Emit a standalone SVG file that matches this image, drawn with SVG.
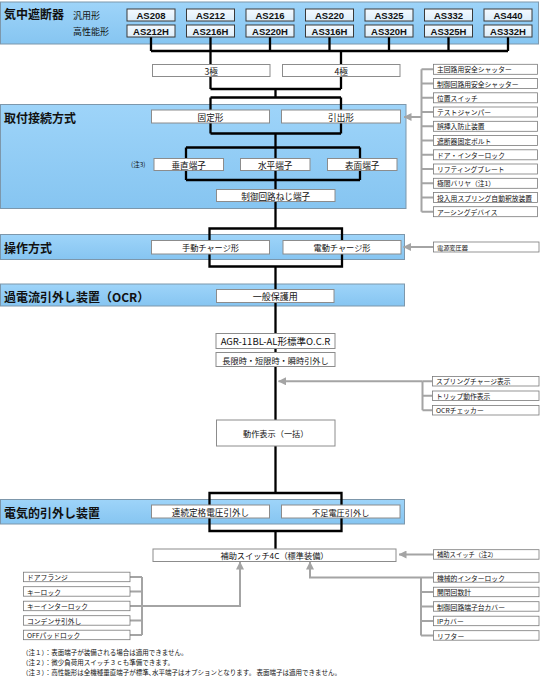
<svg xmlns="http://www.w3.org/2000/svg" width="540" height="676" viewBox="0 0 540 676">
<style>
text{font-family:"Noto Sans CJK JP","Liberation Sans",sans-serif;fill:#111;dominant-baseline:central}
.band{fill:url(#bg);stroke:#7d97ab;stroke-width:1}
.bl{font-size:12px;font-weight:bold}
.sub{font-size:9px}
.as{fill:url(#ag);stroke:#3a3a3a;stroke-width:1}
.ast{font-family:"Liberation Sans",Arial,sans-serif;font-size:9.5px;font-weight:bold;text-anchor:middle}
.box{fill:#fff;stroke:#8c8c8c;stroke-width:1}
.bt{font-size:8.6px;text-anchor:middle}
.lb{fill:#fff;stroke:#7a7a7a;stroke-width:0.8}
.lt{font-size:6.8px}
.fn{font-size:6.5px}
.blk{stroke:#000;stroke-width:2.3;fill:none}
.gry{stroke:#a4a4a4;stroke-width:2;fill:none}
.arr{marker-end:url(#ah)}
</style>
<defs>
<linearGradient id="bg" x1="0" y1="0" x2="0" y2="1"><stop offset="0" stop-color="#9ed4f9"/><stop offset="1" stop-color="#86c5f1"/></linearGradient>
<linearGradient id="ag" x1="0" y1="0" x2="0" y2="1"><stop offset="0" stop-color="#f4faff"/><stop offset="1" stop-color="#dcedf9"/></linearGradient>
<marker id="ah" viewBox="0 0 8 8" refX="7.5" refY="4" markerWidth="8" markerHeight="8" markerUnits="userSpaceOnUse" orient="auto"><path d="M0,0 L8,4 L0,8 Z" fill="#a4a4a4"/></marker>
</defs>

<g id="sections">
<rect class="band" x="0.5" y="2" width="538" height="42"/>
<text class="bl" x="4" y="13.5">気中遮断器</text>
<text class="sub" x="73" y="15.5">汎用形</text>
<text class="sub" x="73" y="31.5">高性能形</text>
<rect class="band" x="0.5" y="104.5" width="405.5" height="104"/>
<text class="bl" x="4" y="117">取付接続方式</text>
<rect class="band" x="0.5" y="234.5" width="404" height="25"/>
<text class="bl" x="4" y="247.5">操作方式</text>
<rect class="band" x="0.5" y="284" width="404" height="22"/>
<text class="bl" x="4" y="296">過電流引外し装置（OCR）</text>
<rect class="band" x="0.5" y="499.5" width="404" height="24.5"/>
<text class="bl" x="4" y="512.5">電気的引外し装置</text>
</g>

<g id="connectors">
<path class="blk" d="M151 37V51M210.5 37V51M270 37V51M329.5 37V51M389 37V51M448.5 37V51M508 37V51M151 51H508M210.5 51V64.5M341 51V64.5"/>
<path class="blk" d="M210.5 76.5V89M341 76.5V89M210.5 89H341M275.5 89V97.5M210.5 97.5H341M210.5 97.5V110M341 97.5V110"/>
<path class="blk" d="M210.5 123V133.5M341 123V133.5M210.5 133.5H341M275.5 133.5V189.5M186 147.5H360M186 147.5V180M360 147.5V180M186 180H360M275.5 201.5V228.5"/>
<path class="blk" d="M209.5 228.5H342V266.5H209.5ZM275.5 266.5V289.5M275.5 302.5V420M275.5 446V493"/>
<path class="blk" d="M209.5 493H341.5V531H209.5ZM275.5 531V549"/>
<path class="gry" d="M421.5 69.3V211.7M421.5 69.3H433.5M421.5 83.5H433.5M421.5 97.8H433.5M421.5 112H433.5M421.5 126.3H433.5M421.5 140.5H433.5M421.5 154.8H433.5M421.5 169H433.5M421.5 183.3H433.5M421.5 197.5H433.5M421.5 211.7H433.5"/>
<path class="gry arr" d="M421.5 117H404"/>
<path class="gry arr" d="M433.5 247H403.5"/>
<path class="gry" d="M422.5 381.3V410.2M422.5 381.3H432.5M422.5 395.8H432.5M422.5 410.2H432.5"/>
<path class="gry arr" d="M422.5 381.3H278.5"/>
<path class="gry arr" d="M433.5 554.5H399"/>
<path class="gry" d="M130 577H142M130 591.5H142M130 606H142M130 620.5H142M130 635H142M142 577V635"/>
<path class="gry arr" d="M142 606H240V562"/>
<path class="gry" d="M421 577.5V635.5M421 592H433.5M421 606.5H433.5M421 621H433.5M421 635.5H433.5"/>
<path class="gry arr" d="M433.5 577.5H310V562"/>
</g>

<g id="n-as208"><rect class="as" x="127" y="9" width="48" height="12"/><text class="ast" x="151" y="15">AS208</text></g>
<g id="n-as212"><rect class="as" x="186.5" y="9" width="48" height="12"/><text class="ast" x="210.5" y="15">AS212</text></g>
<g id="n-as216"><rect class="as" x="246" y="9" width="48" height="12"/><text class="ast" x="270" y="15">AS216</text></g>
<g id="n-as220"><rect class="as" x="305.5" y="9" width="48" height="12"/><text class="ast" x="329.5" y="15">AS220</text></g>
<g id="n-as325"><rect class="as" x="365" y="9" width="48" height="12"/><text class="ast" x="389" y="15">AS325</text></g>
<g id="n-as332"><rect class="as" x="424.5" y="9" width="48" height="12"/><text class="ast" x="448.5" y="15">AS332</text></g>
<g id="n-as440"><rect class="as" x="484" y="9" width="48" height="12"/><text class="ast" x="508" y="15">AS440</text></g>
<g id="n-as212h"><rect class="as" x="127" y="25" width="48" height="12"/><text class="ast" x="151" y="31">AS212H</text></g>
<g id="n-as216h"><rect class="as" x="186.5" y="25" width="48" height="12"/><text class="ast" x="210.5" y="31">AS216H</text></g>
<g id="n-as220h"><rect class="as" x="246" y="25" width="48" height="12"/><text class="ast" x="270" y="31">AS220H</text></g>
<g id="n-as316h"><rect class="as" x="305.5" y="25" width="48" height="12"/><text class="ast" x="329.5" y="31">AS316H</text></g>
<g id="n-as320h"><rect class="as" x="365" y="25" width="48" height="12"/><text class="ast" x="389" y="31">AS320H</text></g>
<g id="n-as325h"><rect class="as" x="424.5" y="25" width="48" height="12"/><text class="ast" x="448.5" y="31">AS325H</text></g>
<g id="n-as332h"><rect class="as" x="484" y="25" width="48" height="12"/><text class="ast" x="508" y="31">AS332H</text></g>

<g id="n-3p"><rect class="box" x="152.5" y="64.5" width="117.5" height="12"/><text class="bt" x="211.2" y="70.5">3極</text></g>
<g id="n-4p"><rect class="box" x="282.5" y="64.5" width="117.5" height="12"/><text class="bt" x="341.2" y="70.5">4極</text></g>

<g id="n-fixed"><rect class="box" x="151.5" y="110" width="118" height="13"/><text class="bt" x="210.5" y="116.5">固定形</text></g>
<g id="n-draw"><rect class="box" x="281.5" y="110" width="119" height="13"/><text class="bt" x="341" y="116.5">引出形</text></g>
<g id="n-note3"><text x="131" y="163.5" style="font-size:6.5px">(注3)</text></g>
<g id="n-vert"><rect class="box" x="154" y="158.5" width="69.5" height="12"/><text class="bt" x="188.7" y="164.5">垂直端子</text></g>
<g id="n-horiz"><rect class="box" x="240.5" y="158.5" width="69.5" height="12"/><text class="bt" x="275.2" y="164.5">水平端子</text></g>
<g id="n-surf"><rect class="box" x="327.5" y="158.5" width="69.5" height="12"/><text class="bt" x="362.2" y="164.5">表面端子</text></g>
<g id="n-ctrl"><rect class="box" x="216.5" y="189.5" width="118.5" height="12"/><text class="bt" x="275.7" y="195.5">制御回路ねじ端子</text></g>

<g id="n-acc1">
<rect class="lb" x="433.5" y="64.3" width="104" height="10"/><text class="lt" x="437" y="69.3">主回路用安全シャッター</text>
<rect class="lb" x="433.5" y="78.5" width="104" height="10"/><text class="lt" x="437" y="83.5">制御回路用安全シャッター</text>
<rect class="lb" x="433.5" y="92.8" width="104" height="10"/><text class="lt" x="437" y="97.8">位置スイッチ</text>
<rect class="lb" x="433.5" y="107" width="104" height="10"/><text class="lt" x="437" y="112">テストジャンパー</text>
<rect class="lb" x="433.5" y="121.3" width="104" height="10"/><text class="lt" x="437" y="126.3">誤挿入防止装置</text>
<rect class="lb" x="433.5" y="135.5" width="104" height="10"/><text class="lt" x="437" y="140.5">遮断器固定ボルト</text>
<rect class="lb" x="433.5" y="149.8" width="104" height="10"/><text class="lt" x="437" y="154.8">ドア・インターロック</text>
<rect class="lb" x="433.5" y="164" width="104" height="10"/><text class="lt" x="437" y="169">リフティングプレート</text>
<rect class="lb" x="433.5" y="178.3" width="104" height="10"/><text class="lt" x="437" y="183.3">極間バリヤ（注1）</text>
<rect class="lb" x="433.5" y="192.5" width="104" height="10"/><text class="lt" x="437" y="197.5">投入用スプリング自動釈放装置</text>
<rect class="lb" x="433.5" y="206.7" width="104" height="10"/><text class="lt" x="437" y="211.7">アーシングデバイス</text>
</g>

<g id="n-manual"><rect class="box" x="151.5" y="240.5" width="118" height="13.5"/><text class="bt" x="210.5" y="247.2" style="font-size:8.2px">手動チャージ形</text></g>
<g id="n-motor"><rect class="box" x="283" y="240.5" width="118" height="13.5"/><text class="bt" x="342" y="247.2" style="font-size:8.2px">電動チャージ形</text></g>
<g id="n-psu"><rect class="lb" x="433.5" y="242" width="105.5" height="10"/><text class="lt" x="437" y="247" style="font-size:6.2px">電源変圧器</text></g>

<g id="n-general"><rect class="box" x="216.5" y="289.5" width="117.5" height="13"/><text class="bt" x="275.2" y="296" style="font-size:9px">一般保護用</text></g>
<g id="n-agr"><rect class="box" x="216" y="333.5" width="119" height="15"/><text class="bt" x="275.5" y="341" style="font-size:9.5px">AGR-11BL-AL形標準O.C.R</text></g>
<g id="n-trip"><rect class="box" x="216" y="352.5" width="119" height="14"/><text class="bt" x="275.5" y="359.5" style="font-size:8.2px">長限時・短限時・瞬時引外し</text></g>
<g id="n-acc2">
<rect class="lb" x="432.5" y="376.5" width="106.5" height="9.5"/><text class="lt" x="436" y="381.3">スプリングチャージ表示</text>
<rect class="lb" x="432.5" y="391" width="106.5" height="9.5"/><text class="lt" x="436" y="395.8">トリップ動作表示</text>
<rect class="lb" x="432.5" y="405.5" width="106.5" height="9.5"/><text class="lt" x="436" y="410.2">OCRチェッカー</text>
</g>
<g id="n-ind"><rect class="box" x="216.5" y="420" width="118.5" height="26"/><text class="bt" x="275.7" y="433" style="font-size:8.2px">動作表示（一括）</text></g>

<g id="n-shunt"><rect class="box" x="151.5" y="505" width="118" height="13"/><text class="bt" x="210.5" y="511.5">連続定格電圧引外し</text></g>
<g id="n-uvt"><rect class="box" x="281.5" y="505" width="118.5" height="13"/><text class="bt" x="340.7" y="511.5" style="font-size:8.2px">不足電圧引外し</text></g>

<g id="n-aux"><rect class="box" x="153" y="549" width="243" height="12.5"/><text class="bt" x="274.5" y="555.3" style="font-size:8.2px">補助スイッチ4C（標準装備）</text></g>
<g id="n-aux2"><rect class="lb" x="433.5" y="549.7" width="105.5" height="9.5"/><text class="lt" x="437" y="554.5" style="font-size:6.3px">補助スイッチ（注2）</text></g>

<g id="n-acc3">
<rect class="lb" x="23.5" y="572.2" width="106.5" height="9.5"/><text class="lt" x="27" y="577">ドアフランジ</text>
<rect class="lb" x="23.5" y="586.7" width="106.5" height="9.5"/><text class="lt" x="27" y="591.5">キーロック</text>
<rect class="lb" x="23.5" y="601.2" width="106.5" height="9.5"/><text class="lt" x="27" y="606">キーインターロック</text>
<rect class="lb" x="23.5" y="615.7" width="106.5" height="9.5"/><text class="lt" x="27" y="620.5">コンデンサ引外し</text>
<rect class="lb" x="23.5" y="630.2" width="106.5" height="9.5"/><text class="lt" x="27" y="635">OFFパッドロック</text>
</g>
<g id="n-acc4">
<rect class="lb" x="433.5" y="572.7" width="105.5" height="9.5"/><text class="lt" x="437" y="577.5">機械的インターロック</text>
<rect class="lb" x="433.5" y="587.2" width="105.5" height="9.5"/><text class="lt" x="437" y="592">開閉回数計</text>
<rect class="lb" x="433.5" y="601.7" width="105.5" height="9.5"/><text class="lt" x="437" y="606.5">制御回路端子台カバー</text>
<rect class="lb" x="433.5" y="616.2" width="105.5" height="9.5"/><text class="lt" x="437" y="621">IPカバー</text>
<rect class="lb" x="433.5" y="630.7" width="105.5" height="9.5"/><text class="lt" x="437" y="635.5">リフター</text>
</g>

<g id="notes">
<text class="fn" x="22" y="651.5">（注１）：表面端子が装備される場合は適用できません。</text>
<text class="fn" x="22" y="661.5">（注２）：微少負荷用スイッチ３ｃも準備できます。</text>
<text class="fn" x="22" y="671.5">（注３）：高性能形は全機種垂直端子が標準､水平端子はオプションとなります。 表面端子は適用できません。</text>
</g>
</svg>
